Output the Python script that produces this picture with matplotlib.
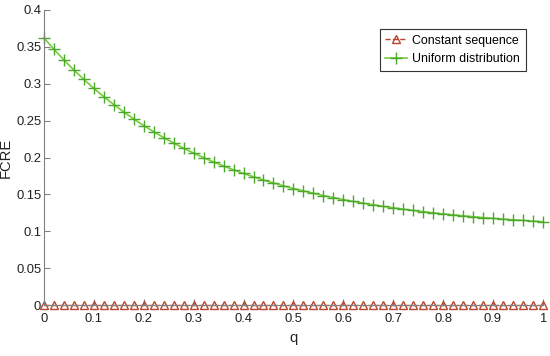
import matplotlib.pyplot as plt
from matplotlib import font_manager
from matplotlib.ticker import FormatStrFormatter

q = [round(0.02 * i, 2) for i in range(51)]

constant_seq = [0.0] * 51

uniform_dist = [
    0.3620, 0.3467, 0.3322, 0.3186, 0.3058, 0.2937, 0.2824, 0.2717, 0.2617, 0.2522,
    0.2433, 0.2349, 0.2270, 0.2196, 0.2126, 0.2060, 0.1998, 0.1940, 0.1885, 0.1833,
    0.1784, 0.1739, 0.1695, 0.1655, 0.1616, 0.1580, 0.1547, 0.1515, 0.1485, 0.1457,
    0.1430, 0.1405, 0.1381, 0.1359, 0.1338, 0.1319, 0.1300, 0.1283, 0.1266, 0.1251,
    0.1236, 0.1223, 0.1210, 0.1198, 0.1186, 0.1175, 0.1165, 0.1156, 0.1147, 0.1138,
    0.1130,
]

x_ticks = [0, 0.1, 0.2, 0.3, 0.4, 0.5, 0.6, 0.7, 0.8, 0.9, 1]
y_ticks = [0, 0.05, 0.1, 0.15, 0.2, 0.25, 0.3, 0.35, 0.4]

# want a narrow Arial-like face if there is one
installed = {f.name for f in font_manager.fontManager.ttflist}
narrow = [n for n in ['Liberation Sans Narrow', 'Arial Narrow'] if n in installed]
if narrow:
    plt.rcParams['font.family'] = [narrow[0], 'DejaVu Sans']
    scale = 1.0
else:
    plt.rcParams['font.family'] = ['Liberation Sans', 'DejaVu Sans']
    scale = 0.85

fig = plt.figure(figsize=(5.5, 3.56), dpi=100)
ax = fig.add_axes([0.08, 0.143, 0.907, 0.829])

red = '#b8452e'
green_line = '#77cc3a'
green_mark = '#4aa82a'

ax.plot(q, constant_seq, linestyle='--', color=red, lw=1.0, marker='^',
        ms=6, mfc='none', mec=red, mew=1.0, label='Constant sequence', clip_on=False)
ax.plot(q, uniform_dist, linestyle='-', color=green_line, lw=1.2, marker='+',
        ms=8, mec=green_mark, mew=1.0, label='Uniform distribution', clip_on=False)

ax.set_xlim(0, 1)
ax.set_ylim(0, 0.4)
ax.set_xticks(x_ticks)
ax.set_yticks(y_ticks)
ax.xaxis.set_major_formatter(FormatStrFormatter('%g'))
ax.yaxis.set_major_formatter(FormatStrFormatter('%g'))
ax.tick_params(direction='in', length=4, width=0.8, color='#808080',
               labelsize=11 * scale, labelcolor='#222222')
ax.tick_params(axis='x', pad=6)
ax.tick_params(axis='y', pad=2)

for side in ['top', 'right']:
    ax.spines[side].set_visible(False)
for side in ['left', 'bottom']:
    ax.spines[side].set_color('#808080')
    ax.spines[side].set_linewidth(0.8)

ax.set_xlabel('q', fontsize=12.5 * scale, color='#222222', labelpad=4)
ax.set_ylabel('FCRE', fontsize=12.5 * scale, color='#222222')
ax.yaxis.set_label_coords(-0.062, 0.5)

leg = ax.legend(loc='upper right', bbox_to_anchor=(0.978, 0.956), fontsize=10.5 * scale,
                fancybox=False, edgecolor='#333333', framealpha=1,
                handlelength=1.8, handletextpad=0.4, borderpad=0.45, labelspacing=0.5)
leg.get_frame().set_linewidth(0.8)

fig.savefig('out.png', dpi=100)
